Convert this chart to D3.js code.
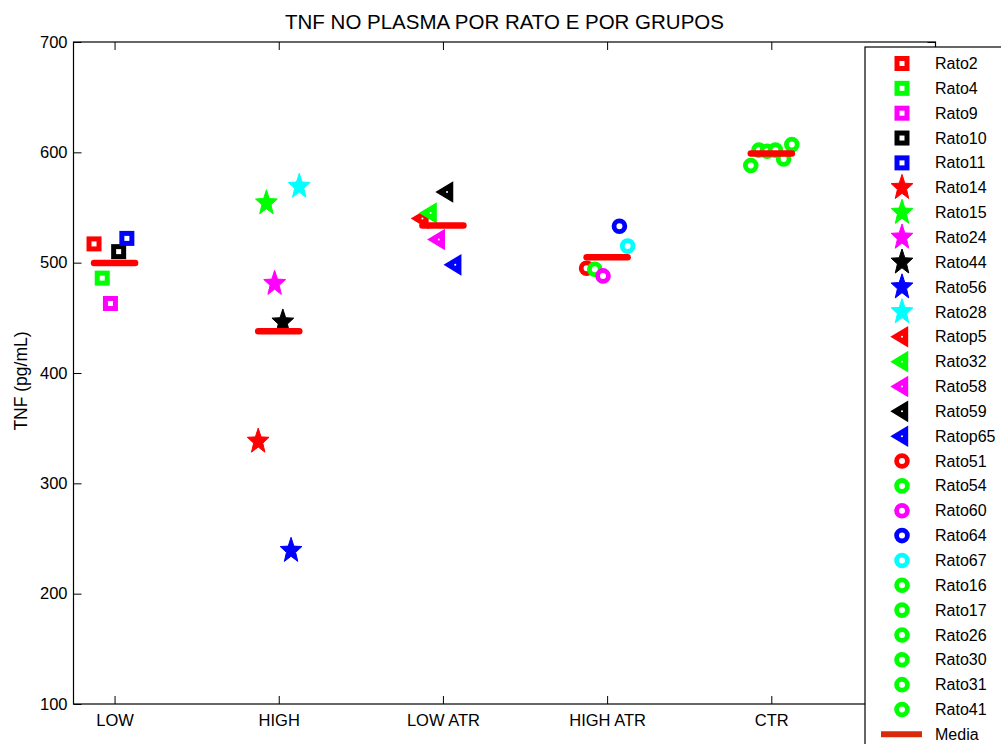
<!DOCTYPE html>
<html>
<head>
<meta charset="utf-8">
<script src="https://cdn.jsdelivr.net/npm/d3@7"></script>
<style>
  html, body { margin: 0; padding: 0; background: #fff; }
  svg { display: block; font-family: "Liberation Sans", Arial, Helvetica, sans-serif; }
</style>
</head>
<body>
<svg id="chart" width="1001" height="744"></svg>
<script>
// Groups on the x axis
const categories = ["LOW", "HIGH", "LOW ATR", "HIGH ATR", "CTR"];

// One entry per animal: name, group index, TNF value (pg/mL), x jitter within the group
const ratNames  = ["Rato2", "Rato4", "Rato9", "Rato10", "Rato11",
                   "Rato14", "Rato15", "Rato24", "Rato44", "Rato56", "Rato28",
                   "Ratop5", "Rato32", "Rato58", "Rato59", "Ratop65",
                   "Rato51", "Rato54", "Rato60", "Rato64", "Rato67",
                   "Rato16", "Rato17", "Rato26", "Rato30", "Rato31", "Rato41"];
const ratGroup  = [0, 0, 0, 0, 0,
                   1, 1, 1, 1, 1, 1,
                   2, 2, 2, 2, 2,
                   3, 3, 3, 3, 3,
                   4, 4, 4, 4, 4, 4];
const ratTNF    = [517, 486, 463, 510, 522,
                   338, 554, 481, 446, 239, 569,
                   540, 545, 521, 564, 498,
                   495, 494, 488, 533, 515,
                   588, 602, 601, 602, 594, 607];
const ratJitter = [-0.125, -0.075, -0.025, 0.025, 0.075,
                   -0.125, -0.075, -0.025, 0.025, 0.075, 0.125,
                   -0.125, -0.075, -0.025, 0.025, 0.075,
                   -0.125, -0.075, -0.025, 0.075, 0.125,
                   -0.125, -0.075, -0.025, 0.025, 0.075, 0.125];

// Y axis ticks
const yTicks = [100, 200, 300, 400, 500, 600, 700];

// Styling
const ratColors = ["#ff0000", "#00ff00", "#ff00ff", "#000000", "#0000ff",
                   "#ff0000", "#00ff00", "#ff00ff", "#000000", "#0000ff", "#00ffff",
                   "#ff0000", "#00ff00", "#ff00ff", "#000000", "#0000ff",
                   "#ff0000", "#00ff00", "#ff00ff", "#0000ff", "#00ffff",
                   "#00ff00", "#00ff00", "#00ff00", "#00ff00", "#00ff00", "#00ff00"];
const groupMarker = ["square", "star", "triangle", "circle", "circle"];
const meanColor = "#ff0000";
const meanLegendColor = "#d92a0c";

const svg = d3.select("#chart");
const margin = { left: 73.5, right: 935.5, top: 42, bottom: 704 };

const x = d3.scaleLinear().domain([0.75, 6]).range([margin.left, margin.right]);
const y = d3.scaleLinear().domain([100, 700]).range([margin.bottom, margin.top]);

const rats = ratNames.map((name, i) => ({
  name, group: ratGroup[i], value: ratTNF[i], jitter: ratJitter[i], color: ratColors[i]
}));

const means = categories.map((c, g) => ({
  group: g, value: d3.mean(rats.filter(r => r.group === g), r => r.value)
}));

// Star marker path (five points, slightly narrow)
function starPath(R) {
  const pts = [];
  for (let k = 0; k < 10; k++) {
    const a = -Math.PI / 2 + k * Math.PI / 5;
    const r = k % 2 === 0 ? R : R * 0.42;
    pts.push([r * Math.cos(a) * 0.86, r * Math.sin(a)]);
  }
  return "M" + pts.map(p => p.join(",")).join("L") + "Z";
}

function drawMarker(sel, kind, color) {
  if (kind === "square") {
    sel.append("rect").attr("x", -5).attr("y", -5).attr("width", 10).attr("height", 10)
      .attr("fill", "#fff").attr("stroke", color).attr("stroke-width", 5);
  } else if (kind === "circle") {
    sel.append("circle").attr("r", 5.4)
      .attr("fill", "#fff").attr("stroke", color).attr("stroke-width", 4.8);
  } else if (kind === "star") {
    sel.append("path").attr("d", starPath(13.3))
      .attr("fill", color).attr("stroke", color).attr("stroke-width", 1).attr("stroke-linejoin", "miter");
  } else if (kind === "triangle") {
    sel.append("path").attr("d", "M-11.7,0L6.2,-10.8L6.2,10.8Z").attr("fill", color);
    sel.append("circle").attr("r", 1).attr("fill", "#fff");
  }
}

// Axes box
svg.append("rect")
  .attr("x", margin.left).attr("y", margin.top)
  .attr("width", margin.right - margin.left).attr("height", margin.bottom - margin.top)
  .attr("fill", "none").attr("stroke", "#000").attr("stroke-width", 1.2);

// Y axis (inward ticks)
const yAxis = d3.axisLeft(y).tickValues(yTicks).tickSize(-8).tickPadding(6).tickFormat(d3.format("d"));
const yg = svg.append("g").attr("transform", `translate(${margin.left},0)`).call(yAxis);
yg.select(".domain").remove();
yg.selectAll(".tick line").attr("stroke", "#000").attr("stroke-width", 1);
yg.selectAll(".tick text").attr("font-size", 16.5).attr("fill", "#000")
  .attr("font-family", "Liberation Sans, Arial, sans-serif");

const yRight = d3.axisRight(y).tickValues(yTicks).tickSize(-8).tickFormat("");
const yrg = svg.append("g").attr("transform", `translate(${margin.right},0)`).call(yRight);
yrg.select(".domain").remove();

// X axis (inward ticks, bottom and top)
const xAxis = d3.axisBottom(x).tickValues(d3.range(1, categories.length + 1))
  .tickSize(-8).tickPadding(10).tickFormat(d => categories[d - 1]);
const xg = svg.append("g").attr("transform", `translate(0,${margin.bottom})`).call(xAxis);
xg.select(".domain").remove();
xg.selectAll(".tick line").attr("stroke", "#000");
xg.selectAll(".tick text").attr("font-size", 16.5).attr("fill", "#000")
  .attr("font-family", "Liberation Sans, Arial, sans-serif");

const xTop = d3.axisTop(x).tickValues(d3.range(1, categories.length + 1)).tickSize(-8).tickFormat("");
const xtg = svg.append("g").attr("transform", `translate(0,${margin.top})`).call(xTop);
xtg.select(".domain").remove();
xtg.selectAll(".tick line").attr("stroke", "#000");

// Title and y label
svg.append("text").attr("x", (margin.left + margin.right) / 2).attr("y", 29)
  .attr("text-anchor", "middle").attr("font-size", 20.5).attr("fill", "#000")
  .text("TNF NO PLASMA POR RATO E POR GRUPOS");

svg.append("text")
  .attr("transform", `translate(27,${(margin.top + margin.bottom) / 2 + 8}) rotate(-90)`)
  .attr("text-anchor", "middle").attr("font-size", 17.5).attr("fill", "#000")
  .text("TNF (pg/mL)");

// Data markers
const plot = svg.append("g");
rats.forEach(r => {
  const g = plot.append("g")
    .attr("transform", `translate(${x(r.group + 1 + r.jitter)},${y(r.value)})`);
  drawMarker(g, groupMarker[r.group], r.color);
});

// Group means
plot.selectAll("line.mean").data(means).join("line")
  .attr("class", "mean")
  .attr("x1", d => x(d.group + 1 - 0.125)).attr("x2", d => x(d.group + 1 + 0.125))
  .attr("y1", d => y(d.value)).attr("y2", d => y(d.value))
  .attr("stroke", meanColor).attr("stroke-width", 6.5).attr("stroke-linecap", "round");

// Legend
const legend = svg.append("g");
legend.append("rect").attr("x", 865).attr("y", 47).attr("width", 160).attr("height", 720)
  .attr("fill", "#fff").attr("stroke", "#000").attr("stroke-width", 1.2);

const legendItems = rats.map(r => ({ label: r.name, kind: groupMarker[r.group], color: r.color }))
  .concat([{ label: "Media", kind: "line", color: meanLegendColor }]);
const ly = d3.scaleLinear().domain([0, legendItems.length - 1]).range([63.5, 709.5 + 24.85]);

legendItems.forEach((it, i) => {
  const g = legend.append("g").attr("transform", `translate(0,${ly(i)})`);
  const m = g.append("g").attr("transform", "translate(902,0)");
  if (it.kind === "line") {
    m.append("line").attr("x1", -21).attr("x2", 20).attr("stroke", it.color).attr("stroke-width", 6);
  } else {
    drawMarker(m, it.kind, it.color);
  }
  g.append("text").attr("x", 935).attr("y", 0).attr("dy", "0.35em")
    .attr("font-size", 16).attr("fill", "#000").text(it.label);
});
</script>
</body>
</html>
